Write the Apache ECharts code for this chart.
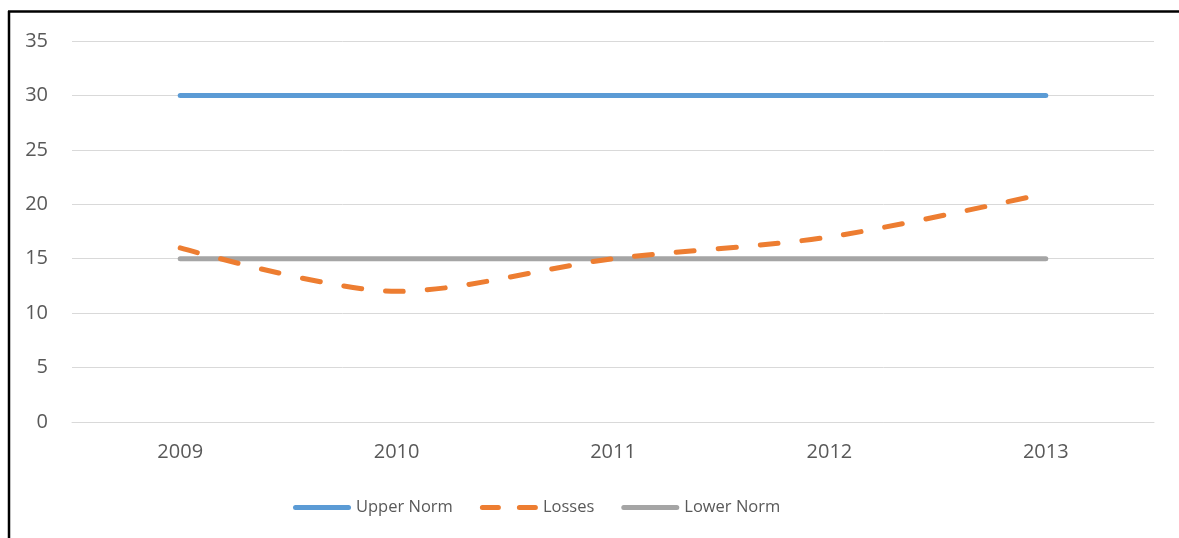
<!DOCTYPE html>
<html>
<head>
<meta charset="utf-8">
<title>Losses vs Norms</title>
<script src="https://cdn.jsdelivr.net/npm/echarts@6/dist/echarts.min.js"></script>
<style>
  html, body { margin: 0; padding: 0; background: #fff; }
  #chart { width: 1179px; height: 538px; }
</style>
</head>
<body>
<div id="chart"></div>
<script>
// Yearly losses compared with the upper and lower norm
const years = ['2009', '2010', '2011', '2012', '2013'];
const upperNorm = [30, 30, 30, 30, 30];
const losses = [16, 12, 15, 17, 21];
const lowerNorm = [15, 15, 15, 15, 15];
const yTicks = { min: 0, max: 35, interval: 5 };

const textColor = '#595959';
const fontFamily = '"Open Sans", "Noto Sans", sans-serif';
const gridColor = '#d9d9d9';

// legend swatches: a rounded bar for solid lines, two rounded dashes for the dashed one
const solidIcon = 'path://M2.5,0H55.5A2.5,2.5 0 0 1 55.5,5H2.5A2.5,2.5 0 0 1 2.5,0Z';
const dashedIcon = 'path://M2.5,0H18.5A2.5,2.5 0 0 1 18.5,5H2.5A2.5,2.5 0 0 1 2.5,0Z' +
  'M39.5,0H55.5A2.5,2.5 0 0 1 55.5,5H39.5A2.5,2.5 0 0 1 39.5,0Z';

const chart = echarts.init(document.getElementById('chart'), null, { renderer: 'canvas' });

chart.setOption({
  animation: false,
  backgroundColor: '#ffffff',
  textStyle: { fontFamily: fontFamily },
  graphic: [
    { type: 'line', shape: { x1: 9, y1: 11, x2: 9, y2: 538 }, style: { stroke: '#000', lineWidth: 2.5 } },
    { type: 'line', shape: { x1: 8, y1: 11.5, x2: 1179, y2: 11.5 }, style: { stroke: '#000', lineWidth: 2.5 } }
  ],
  grid: { left: 72, right: 25, top: 41, bottom: 116 },
  legend: {
    left: 288,
    top: 494,
    itemWidth: 58,
    itemHeight: 5,
    itemGap: 27,
    textStyle: { color: textColor, fontSize: 16.5, fontFamily: fontFamily },
    data: [
      { name: 'Upper Norm', icon: solidIcon },
      { name: 'Losses', icon: dashedIcon },
      { name: 'Lower Norm', icon: solidIcon }
    ]
  },
  xAxis: {
    type: 'category',
    data: years,
    boundaryGap: true,
    axisLine: { show: true, lineStyle: { color: gridColor, width: 1 } },
    axisTick: { show: false },
    axisLabel: { color: textColor, fontSize: 20, margin: 20, fontFamily: fontFamily },
    splitLine: { show: false }
  },
  yAxis: {
    type: 'value',
    min: yTicks.min,
    max: yTicks.max,
    interval: yTicks.interval,
    axisLine: { show: false },
    axisTick: { show: false },
    axisLabel: { color: textColor, fontSize: 20, margin: 24, fontFamily: fontFamily },
    splitLine: { lineStyle: { color: gridColor, width: 1 } }
  },
  series: [
    {
      name: 'Upper Norm',
      type: 'line',
      data: upperNorm,
      symbol: 'none',
      color: '#5B9BD5',
      lineStyle: { width: 5, color: '#5B9BD5', cap: 'round' },
      z: 2
    },
    {
      name: 'Losses',
      type: 'line',
      data: losses,
      symbol: 'none',
      smooth: 0.3,
      color: '#ED7D31',
      lineStyle: { width: 5, color: '#ED7D31', type: [18, 24], cap: 'round' },
      z: 3
    },
    {
      name: 'Lower Norm',
      type: 'line',
      data: lowerNorm,
      symbol: 'none',
      color: '#A5A5A5',
      lineStyle: { width: 5, color: '#A5A5A5', cap: 'round' },
      z: 2
    }
  ]
});
</script>
</body>
</html>
